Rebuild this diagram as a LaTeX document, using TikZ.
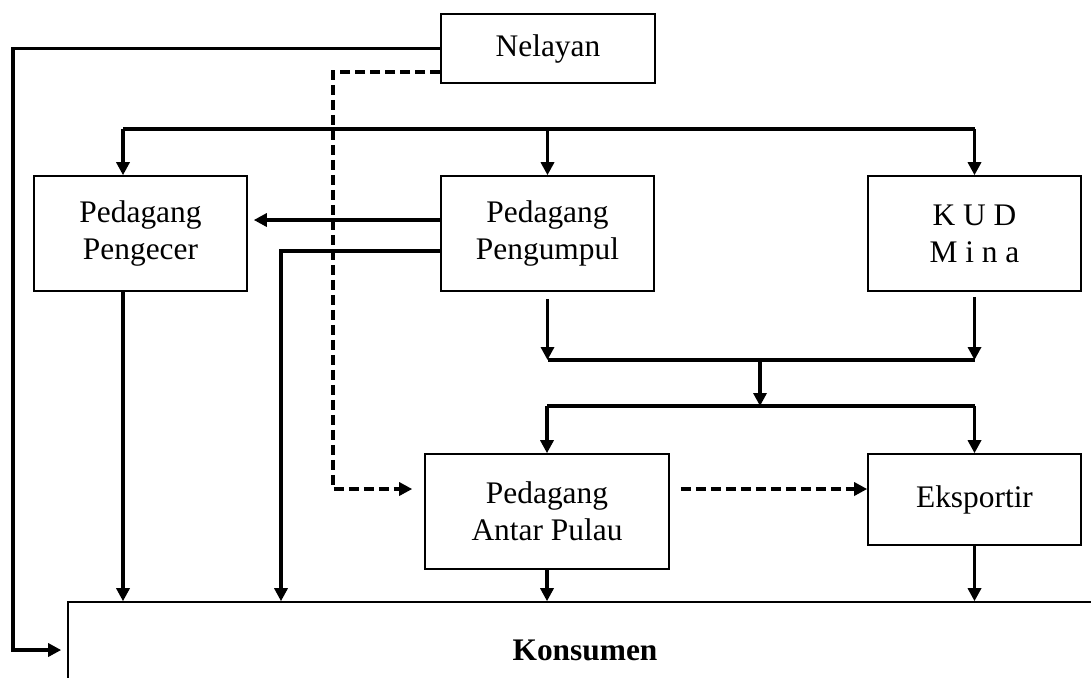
\documentclass[tikz,border=0pt]{standalone}
\usepackage{fontspec}
\setmainfont{Liberation Serif}
\usetikzlibrary{arrows.meta}

\begin{document}
\begin{tikzpicture}[x=0.5pt, y=-0.5pt,
    box/.style={draw, line width=0.8pt, align=center, inner sep=0pt, font=\fontsize{15.7}{18.5}\selectfont},
    flow/.style={->, line width=1.6pt},
    dflow/.style={->, line width=1.6pt, dash pattern=on 5pt off 2.5pt},
    >={Triangle[length=6.5pt, width=6.5pt]}]
    \clip (0,0) rectangle (1091,677);

    % Nodes
    \node[box, minimum width=107pt, minimum height=34.5pt] (nel) at (548,48.5) {Nelayan};
    \node[box, minimum width=106.5pt, minimum height=57.5pt] (pgc) at (140.5,233.5) {Pedagang\\Pengecer};
    \node[box, minimum width=106.5pt, minimum height=57.5pt] (pgl) at (547.5,233.5) {Pedagang\\Pengumpul};
    \node[box, minimum width=106.5pt, minimum height=57.5pt] (kud) at (974.5,233.5) {K U D\\M i n a};
    \node[box, minimum width=122pt, minimum height=57.5pt] (apl) at (547,511.5) {Pedagang\\Antar Pulau};
    \node[box, minimum width=106.5pt, minimum height=45.5pt] (eks) at (974.5,499.5) {Eksportir};
    \node[box, font=\fontsize{15.7}{18.5}\selectfont\bfseries, minimum width=517pt, minimum height=48pt] (kon) at (585,650) {Konsumen};

    % Junctions
    \coordinate (lft) at (13,650);
    \coordinate (top) at (123,129);
    \coordinate (d1) at (333,72);
    \coordinate (d2) at (333,489);
    \coordinate (c2) at (281,251);
    \coordinate (m1) at (760,360);
    \coordinate (m2) at (760,406);

    % Arrows
    \draw[flow, shorten >=3pt] (nel.west) -| (lft) -- (kon.west);
    \draw[line width=1.6pt] (top) -- (top -| kud.north);
    \draw[flow] (top) -- (top |- pgc.north);
    \draw[flow] (top -| pgl.north) -- (pgl.north);
    \draw[flow] (top -| kud.north) -- (kud.north);
    \draw[flow, shorten >=3pt] ([yshift=6.75pt]pgl.west) -- ([yshift=6.75pt]pgc.east);
    \draw[flow] (pgl.west |- c2) -- (c2) -- (c2 |- kon.north);
    \draw[flow] (top |- pgc.south) -- (top |- kon.north);
    \draw[dflow, shorten >=6pt] (nel.west |- d1) -- (d1) -- (d2) -- (apl.west |- d2);
    \draw[dflow, shorten <=5.5pt] (apl.east |- d2) -- (eks.west |- d2);
    \draw[line width=1.6pt] (m1 -| pgl.south) -- (m1 -| kud.south);
    \draw[flow, shorten <=3.5pt] (pgl.south) -- (m1 -| pgl.south);
    \draw[flow, shorten <=2.5pt] (kud.south) -- (m1 -| kud.south);
    \draw[flow] (m1) -- (m2);
    \draw[line width=1.6pt] (m2 -| apl.north) -- (m2 -| eks.north);
    \draw[flow] (m2 -| apl.north) -- (apl.north);
    \draw[flow] (m2 -| eks.north) -- (eks.north);
    \draw[flow] (apl.south) -- (apl.south |- kon.north);
    \draw[flow] (eks.south) -- (eks.south |- kon.north);
\end{tikzpicture}
\end{document}
